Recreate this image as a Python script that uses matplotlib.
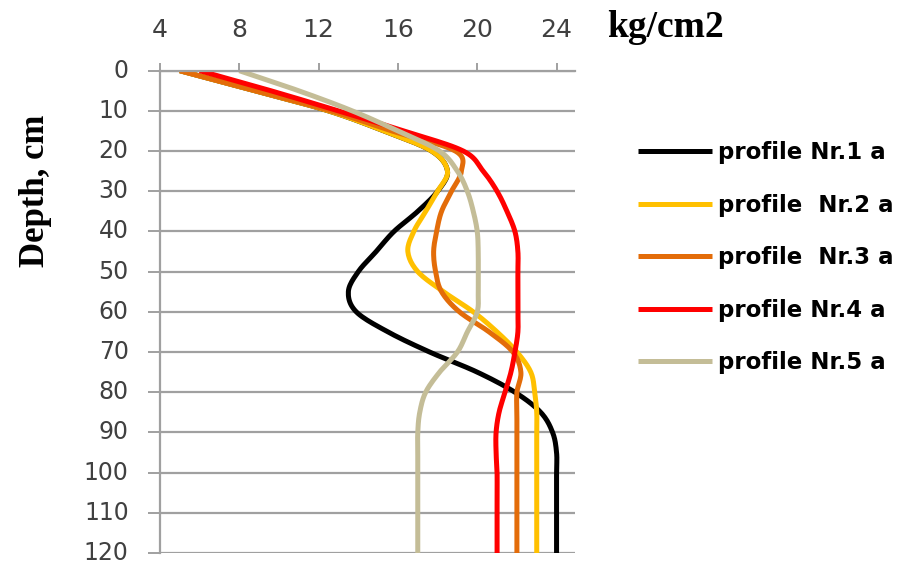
import numpy as np
import matplotlib
matplotlib.use("Agg")
import matplotlib.pyplot as plt

# depth (cm) and penetration resistance (kg/cm2), every 5 cm
depth = [0, 5, 10, 15, 20, 25, 30, 35, 40, 45, 50, 55, 60,
         65, 70, 75, 80, 85, 90, 95, 100, 105, 110, 115, 120]
p1 = [5.0, 8.8, 12.5, 15.3, 17.7, 18.5, 18.0, 17.0, 15.8, 14.9, 14.0, 13.5, 13.9,
      15.5, 17.6, 20.0, 21.9, 23.2, 23.8, 24.0, 24.0, 24.0, 24.0, 24.0, 24.0]
p2 = [5.0, 8.8, 12.5, 15.3, 17.7, 18.5, 18.0, 17.4, 16.8, 16.5, 17.0, 18.3, 19.8,
      21.0, 22.0, 22.7, 22.9, 23.0, 23.0, 23.0, 23.0, 23.0, 23.0, 23.0, 23.0]
p3 = [5.0, 8.8, 12.6, 15.7, 18.9, 19.2, 18.7, 18.2, 17.95, 17.8, 17.9, 18.2, 19.1,
      20.6, 21.8, 22.2, 22.0, 22.0, 22.0, 22.0, 22.0, 22.0, 22.0, 22.0, 22.0]
p4 = [6.0, 9.6, 13.0, 16.3, 19.3, 20.3, 21.0, 21.5, 21.9, 22.05, 22.05, 22.05, 22.05,
      22.05, 21.9, 21.7, 21.4, 21.1, 20.95, 20.95, 21.0, 21.0, 21.0, 21.0, 21.0]
p5 = [8.0, 11.0, 13.7, 16.0, 18.1, 19.0, 19.5, 19.8, 20.0, 20.05, 20.05, 20.05, 20.0,
      19.5, 19.0, 18.1, 17.4, 17.1, 17.0, 17.0, 17.0, 17.0, 17.0, 17.0, 17.0]

labels = ['profile Nr.1 a', 'profile  Nr.2 a', 'profile  Nr.3 a',
          'profile Nr.4 a', 'profile Nr.5 a']
colors = ['#000000', '#FFC000', '#E36C09', '#FF0000', '#C4BD97']
x_ticks = [4, 8, 12, 16, 20, 24]
y_ticks = list(range(0, 121, 10))


def smooth(x, y, n=12):
    # Catmull-Rom curve through the points, like Excel's smoothed line
    pts = np.column_stack([x, y]).astype(float)
    P = np.vstack([pts[0], pts, pts[-1]])
    t = np.linspace(0, 1, n, endpoint=False)[:, None]
    out = []
    for i in range(1, len(P) - 2):
        p0, p1_, p2_, p3_ = P[i - 1], P[i], P[i + 1], P[i + 2]
        seg = 0.5 * (2 * p1_ + (-p0 + p2_) * t
                     + (2 * p0 - 5 * p1_ + 4 * p2_ - p3_) * t ** 2
                     + (-p0 + 3 * p1_ - 3 * p2_ + p3_) * t ** 3)
        out.append(seg)
    out.append(pts[-1:])
    s = np.vstack(out)
    return s[:, 0], s[:, 1]


fig = plt.figure(figsize=(9.02, 5.67), dpi=100)
ax = fig.add_axes([160 / 902, 1 - 553 / 567, 415 / 902, 482.3 / 567])

for vals, c, lab in zip([p1, p2, p3, p4, p5], colors, labels):
    sx, sy = smooth(vals, depth)
    ax.plot(sx, sy, color=c, lw=3.6, label=lab, solid_capstyle='butt')

ax.set_xlim(4, 24.93)
ax.set_ylim(120, 0)
ax.xaxis.tick_top()
ax.set_xticks(x_ticks)
ax.set_yticks(y_ticks)

grid_c = '#A0A0A0'
ax.yaxis.grid(True, color=grid_c, lw=1.6)
ax.set_axisbelow(True)
for s in ['right', 'bottom']:
    ax.spines[s].set_visible(False)
for s in ['left', 'top']:
    ax.spines[s].set_color(grid_c)
    ax.spines[s].set_linewidth(1.6)

ax.tick_params(axis='x', direction='out', length=6, width=1.4, color=grid_c,
               pad=15, labelsize=18, labelcolor='#404040')
ax.tick_params(axis='y', direction='out', length=8.5, width=1.4, color=grid_c,
               pad=14, labelsize=17, labelcolor='#404040')
for lbl in ax.get_yticklabels():
    lbl.set_verticalalignment('center')

fig.text(607 / 902, 1 - 37 / 567, 'kg/cm2', family='Liberation Serif',
         weight='bold', fontsize=27, va='baseline', ha='left')
fig.text(35 / 902, 1 - 191 / 567, 'Depth, cm', family='Liberation Serif',
         weight='bold', fontsize=25, rotation=90, va='center', ha='center')

fig.legend(loc='upper left', bbox_to_anchor=(638 / 902, 1 - 141 / 567),
           frameon=False, borderpad=0, borderaxespad=0,
           prop={'family': 'DejaVu Sans', 'weight': 'bold', 'size': 16.5},
           handlelength=3.23, handletextpad=0.27, labelspacing=1.29)

fig.savefig('out.png', dpi=100)
